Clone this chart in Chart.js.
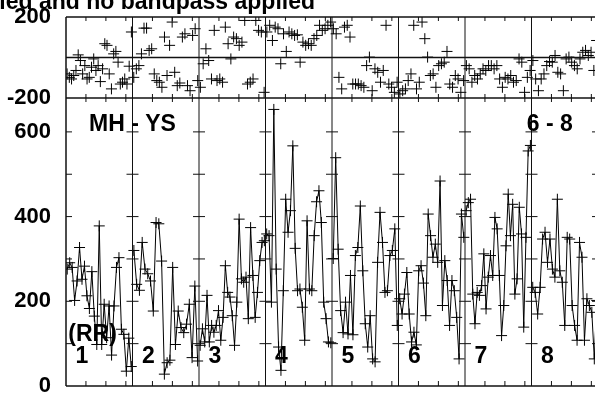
<!DOCTYPE html>
<html><head><meta charset="utf-8">
<script src="https://cdn.jsdelivr.net/npm/chart.js@4.4.1/dist/chart.umd.min.js"></script>
<style>html,body{margin:0;padding:0;overflow:hidden;background:#fff}canvas{display:block}</style>
</head><body>
<canvas id="c" width="610" height="394"></canvas>
<script>
// ---- data ----
const segmentLabels = ['1','2','3','4','5','6','7','8'];
const rr1 = [276,291,280,202,248,327,252,283,213,183,270,165,98,378,98,193,114,189,73,189,280,303,134,122,35,113,46];
const rr2 = [320,240,226,339,276,265,248,177,386,383,295,28,55,61,280,98,177,138,126,146,193,67,236,59];
const rr3 = [96,135,104,214,104,143,127,143,178,108,162,284,221,210,166,96,198,394,253,245,257,159,374,261,162,221,296,339,343];
const rr4 = [359,355,198,653,276,92,37,225,441,363,414,567,325,225,229,186,108,390,229,225,355,435,461,386,198,159,104,102];
const rr5 = [301,539,323,178,126,198,123,261,121,308,327,425,272,147,92,166,64,57,292,410,339,221,225,308,320,371,143];
const rr6 = [206,170,217,268,170,104,127,97,272,284,243,166,406,355,304,335,292,484,190,296,249,143,249,225,162,64,406,351];
const rr7 = [414,433,441,217,147,221,214,237,312,182,257,308,261,398,371,261,119,190,331,453,355,429,217,253,422,359,139,351,555,568];
const rr8 = [233,221,170,233,347,363,292,347,276,257,441,272,245,143,351,347,190,143,108,339,304,108,206,190,174,64,202];

const d1 = [-81,-98,-106,-89,-64,13,-15,-81,-40,-106,-98,-48,-7,-64,-40,-119,-56,68,60,-81,-155,18,30,-23,-131,-122,-106,-131,-43,126];
const d2 = [-98,-56,-40,18,145,145,35,43,-81,-114,-122,-147,101,-89,60,175,-73,-139,-126,101,117,-139,-164,109,142,-114];
const d3 = [-147,-31,43,-15,-106,134,-114,-106,-122,150,68,-7,101,93,60,76,183,-131,-122,-106,183,134,126,-172];
const d4 = [126,159,84,150,142,-31,117,30,126,117,109,112,-23,76,60,68,60,93,109,159,134,142,159,175];
const d5 = [142,117,-98,-155,150,159,101,-131,-131,-131,-139,-147,-40,2,-164,-56,-73,-122,-64,159,-131,-147,-172,-122];
const d6 = [-180,-164,-155,-114,-81,159,-155,-122,175,93,2,-89,-81,-147,-40,-31,-23,30,-131,-147,-89,-106,-172,-114];
const d7 = [-40,-56,-122,-89,-106,-81,-56,-64,-40,-40,-56,-40,-106,-147,-98,-106,-89,-122,-114,-7,-23,-172,-98,-64];
const d8 = [-15,-106,-164,-106,-81,-40,-20,-23,10,-73,-81,-164,-7,2,-23,-40,-56,-7,26,35,10,26,-64,84];

const rrSegments = [rr1,rr2,rr3,rr4,rr5,rr6,rr7,rr8];
const diffSegments = [d1,d2,d3,d4,d5,d6,d7,d8];

const topTickValues = [-200, 200];
const bottomTickValues = [0, 200, 400, 600];
const bottomMinorValues = [100, 200, 300, 400, 500, 600];
const xMinorFractions = [0.3, 0.6, 0.9];
const titleText = 'No artifact correction applied and no bandpass applied';
const leftLabel = 'MH - YS';
const rightLabel = '6 - 8';
const unitLabel = '(RR)';

// ---- build ----
const FONT = '"Liberation Sans", Arial, Helvetica, sans-serif';
function toPoints(vals, seg) {
  return vals.map((v, i) => ({x: seg + (i + 0.5) / vals.length, y: v}));
}
const datasets = [];
rrSegments.forEach((vals, s) => datasets.push({
  data: toPoints(vals, s), yAxisID: 'yBot', showLine: true,
  borderColor: '#000', borderWidth: 1, pointStyle: 'cross', pointRadius: 5.5,
  pointBorderColor: '#000', pointBorderWidth: 1, fill: false
}));
diffSegments.forEach((vals, s) => datasets.push({
  data: toPoints(vals, s), yAxisID: 'yTop', showLine: false,
  pointStyle: 'cross', pointRadius: 5.5, pointBorderColor: '#000', pointBorderWidth: 1
}));

const nSeg = segmentLabels.length;

const framePlugin = {
  id: 'frame',
  afterDatasetsDraw(chart) {
    const ctx = chart.ctx, x = chart.scales.x, yt = chart.scales.yTop, yb = chart.scales.yBot;
    const L = x.getPixelForValue(0), R = x.getPixelForValue(nSeg);
    const T = yt.getPixelForValue(200), Z = yt.getPixelForValue(0), M = yt.getPixelForValue(-200), B = yb.getPixelForValue(0);
    const ln = (a, b, c, d) => { ctx.beginPath(); ctx.moveTo(a, b); ctx.lineTo(c, d); ctx.stroke(); };
    ctx.save();
    ctx.strokeStyle = '#111';
    ctx.lineWidth = 1;
    for (let s = 1; s < nSeg; s++) { const px = x.getPixelForValue(s); ln(px, T, px, B); }
    ctx.lineWidth = 1.5;
    [T, Z, M, B].forEach(py => ln(L, py, R, py));
    ln(L, T, L, B); ln(R, T, R, B);
    ctx.lineWidth = 1;
    for (let s = 0; s < nSeg; s++) {
      xMinorFractions.forEach(f => {
        const px = x.getPixelForValue(s + f);
        ln(px, T, px, T + 4);
        ln(px, M - 4, px, M + 4);
        ln(px, B - 5, px, B);
      });
    }
    for (let s = 0; s <= nSeg; s++) {
      const px = x.getPixelForValue(s);
      bottomMinorValues.forEach(v => {
        const py = yb.getPixelForValue(v);
        ln(s === 0 ? px : px - 6, py, px + 6, py);
      });
    }
    ctx.restore();
  }
};

const textPlugin = {
  id: 'texts',
  afterDraw(chart) {
    const ctx = chart.ctx, x = chart.scales.x, yb = chart.scales.yBot;
    ctx.save();
    ctx.fillStyle = '#000';
    ctx.font = 'bold 23px ' + FONT;
    ctx.textAlign = 'right'; ctx.textBaseline = 'alphabetic';
    ctx.fillText(titleText, 315, 9);
    ctx.textAlign = 'center'; ctx.textBaseline = 'middle';
    ctx.fillText(leftLabel, x.getPixelForValue(1), yb.getPixelForValue(617));
    ctx.fillText(rightLabel, x.getPixelForValue(7.275), yb.getPixelForValue(617));
    ctx.fillText(unitLabel, x.getPixelForValue(0.4), yb.getPixelForValue(122));
    segmentLabels.forEach((lab, s) => ctx.fillText(lab, x.getPixelForValue(s + 0.24), yb.getPixelForValue(70)));
    ctx.restore();
  }
};

function fixAxis(scale) { scale.width = 66; scale.paddingTop = 0; scale.paddingBottom = 0; }

new Chart(document.getElementById('c'), {
  type: 'scatter',
  data: {datasets},
  options: {
    responsive: false, animation: false, devicePixelRatio: 1,
    layout: {padding: {left: 0, top: 17, right: 12, bottom: 8}},
    plugins: {legend: {display: false}, tooltip: {enabled: false}, title: {display: false}},
    scales: {
      x: {type: 'linear', min: 0, max: nSeg, display: false},
      yBot: {
        type: 'linear', position: 'left', stack: 'panels', stackWeight: 288, min: 0, max: 680,
        afterBuildTicks: s => { s.ticks = bottomTickValues.map(v => ({value: v})); },
        afterFit: fixAxis,
        grid: {display: false}, border: {display: false},
        ticks: {color: '#000', padding: 7, font: {family: FONT, size: 22, weight: 'bold'}}
      },
      yTop: {
        type: 'linear', position: 'left', stack: 'panels', stackWeight: 81, min: -200, max: 200,
        afterBuildTicks: s => { s.ticks = topTickValues.map(v => ({value: v})); },
        afterFit: fixAxis,
        grid: {display: false}, border: {display: false},
        ticks: {color: '#000', padding: 7, font: {family: FONT, size: 22, weight: 'bold'}}
      }
    }
  },
  plugins: [framePlugin, textPlugin]
});
</script>
</body></html>
